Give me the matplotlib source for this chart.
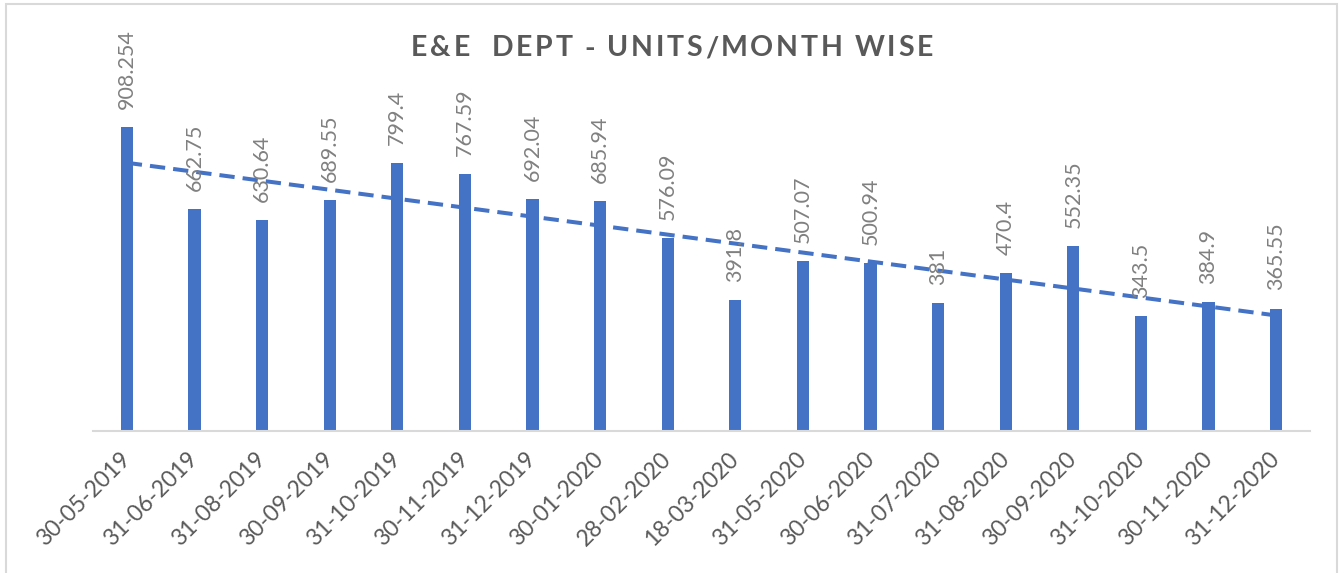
import numpy as np
import matplotlib
matplotlib.use("Agg")
import matplotlib.pyplot as plt
from matplotlib.patches import Rectangle
from matplotlib.font_manager import FontProperties

dates = ["30-05-2019", "31-06-2019", "31-08-2019", "30-09-2019", "31-10-2019",
         "30-11-2019", "31-12-2019", "30-01-2020", "28-02-2020", "18-03-2020",
         "31-05-2020", "30-06-2020", "31-07-2020", "31-08-2020", "30-09-2020",
         "31-10-2020", "30-11-2020", "31-12-2020"]
units = [908.254, 662.75, 630.64, 689.55, 799.4, 767.59, 692.04, 685.94, 576.09,
         391.8, 507.07, 500.94, 381, 470.4, 552.35, 343.5, 384.9, 365.55]
labels = ["908.254", "662.75", "630.64", "689.55", "799.4", "767.59", "692.04",
          "685.94", "576.09", "391.8", "507.07", "500.94", "381", "470.4",
          "552.35", "343.5", "384.9", "365.55"]
title = "E&E  DEPT - UNITS/MONTH WISE"

blue = "#4472C4"
plt.rcParams['font.family'] = ['Lato', 'DejaVu Sans']

W, H = 1342, 573
fig = plt.figure(figsize=(W / 100, H / 100), dpi=100)
fig.patches.append(Rectangle((6 / W, -0.05), 1331 / W, 1.05 - 4 / H,
                             transform=fig.transFigure, fill=False,
                             edgecolor="#d9d9d9", linewidth=1.5))
ax = fig.add_axes([93 / W, 1 - 431 / H, (1310 - 93) / W, (431 - 96) / H])

x = np.arange(len(units))
ax.bar(x, units, width=0.18, color=blue, zorder=2)

coef = np.polyfit(x, units, 1)
ax.plot(x, np.polyval(coef, x), color=blue, linewidth=2.9,
        linestyle=(0, (3.8, 2.0)), zorder=3)

for xi, v, lab in zip(x, units, labels):
    ax.annotate(lab, (xi, v), xytext=(0, 13), textcoords="offset points",
                rotation=90, ha="center", va="bottom", fontsize=15.5,
                color="#808080", zorder=4)

ax.set_xlim(-0.5, len(units) - 0.5)
ax.set_ylim(0, 1000)
ax.set_yticks([])
for s in ["top", "right", "left"]:
    ax.spines[s].set_visible(False)
ax.spines["bottom"].set_color("#d9d9d9")
ax.spines["bottom"].set_linewidth(1.5)
ax.set_xticks(x)
ax.set_xticklabels(dates, rotation=45, ha="right", va="center",
                   rotation_mode="anchor", fontsize=16.5, color="#595959")
ax.tick_params(axis="x", length=0, pad=18)

# letter-spaced title
renderer = fig.canvas.get_renderer()
prop = FontProperties(family=['Lato', 'DejaVu Sans'], weight='bold', size=20.5)
def tw(s):
    return renderer.get_text_width_height_descent(s, prop, ismath=False)[0]
wX = tw("X")
adv = [tw(title[:i] + "X") - wX if i > 0 else 0.0 for i in range(len(title))]
full = tw(title)
target = 932 - 410
spacing = (target - full) / (len(title) - 1)
x0 = 672 - target / 2
yc = 1 - 46 / H
for i, ch in enumerate(title):
    if ch == " ":
        continue
    fig.text((x0 + adv[i] + i * spacing) / W, yc, ch, ha="left", va="center_baseline",
             fontproperties=prop, color="#595959")

fig.savefig("out.png", dpi=100)
